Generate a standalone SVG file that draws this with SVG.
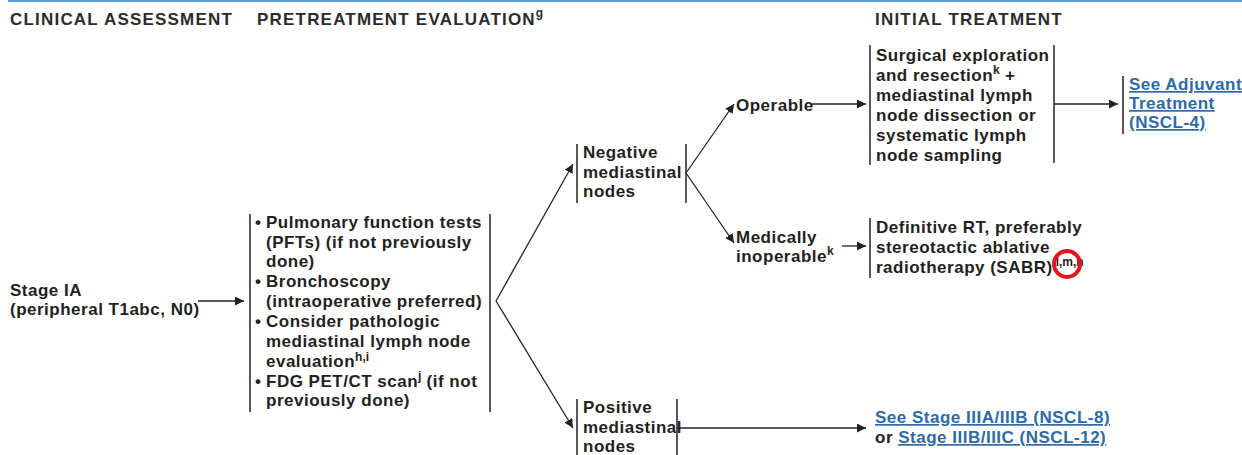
<svg xmlns="http://www.w3.org/2000/svg" width="1242" height="455" viewBox="0 0 1242 455">
  <style>
    text { font-family: "Liberation Sans", Arial, sans-serif; font-weight: bold; fill: #231f20; }
    .h { font-size: 17px; letter-spacing: 1.2px; fill: #2b2b2b; }
    .t { font-size: 17px; letter-spacing: 0.5px; }
    .s { font-size: 12px; letter-spacing: 0; }
    .lnk { fill: #2e6aa6; text-decoration: underline; }
    .bar { stroke: #222; stroke-width: 1.5; fill: none; }
    .conn path, .conn line { stroke: #222; stroke-width: 1.3; fill: none; }
  </style>
  <defs>
    <marker id="arr" viewBox="0 0 10 10" refX="10" refY="5" markerWidth="9" markerHeight="9" markerUnits="userSpaceOnUse" orient="auto">
      <path d="M0,0 L10,5 L0,10 z" fill="#222"/>
    </marker>
  </defs>

  <rect width="1242" height="455" fill="#fff"/>
  <line x1="8" y1="1" x2="1242" y2="1" stroke="#5b9bd0" stroke-width="2"/>

  <!-- column headings -->
  <g id="headings">
    <text class="h" x="10" y="25">CLINICAL ASSESSMENT</text>
    <text class="h" x="257" y="25">PRETREATMENT EVALUATION<tspan class="s" dy="-8">g</tspan></text>
    <text class="h" x="875" y="25">INITIAL TREATMENT</text>
  </g>

  <g id="stage-ia">
    <text class="t" x="10" y="296">Stage IA</text>
    <text class="t" x="10" y="315">(peripheral T1abc, N0)</text>
  </g>

  <g id="pretreatment">
    <line class="bar" x1="250" y1="214" x2="250" y2="412"/>
    <line class="bar" x1="490" y1="214" x2="490" y2="412"/>
    <text class="t" x="255" y="228">•</text>
    <text class="t" x="266" y="228">Pulmonary function tests</text>
    <text class="t" x="266" y="248">(PFTs) (if not previously</text>
    <text class="t" x="266" y="267">done)</text>
    <text class="t" x="255" y="287">•</text>
    <text class="t" x="266" y="287">Bronchoscopy</text>
    <text class="t" x="266" y="307">(intraoperative preferred)</text>
    <text class="t" x="255" y="327">•</text>
    <text class="t" x="266" y="327">Consider pathologic</text>
    <text class="t" x="266" y="347">mediastinal lymph node</text>
    <text class="t" x="266" y="367">evaluation<tspan class="s" dy="-6">h,i</tspan></text>
    <text class="t" x="255" y="387">•</text>
    <text class="t" x="266" y="387">FDG PET/CT scan<tspan class="s" dy="-7">j</tspan><tspan dy="7"> (if not</tspan></text>
    <text class="t" x="266" y="406">previously done)</text>
  </g>

  <g id="negative-nodes">
    <line class="bar" x1="577" y1="144" x2="577" y2="203"/>
    <line class="bar" x1="686" y1="144" x2="686" y2="203"/>
    <text class="t" x="583" y="158">Negative</text>
    <text class="t" x="583" y="178">mediastinal</text>
    <text class="t" x="583" y="197">nodes</text>
  </g>

  <g id="positive-nodes">
    <line class="bar" x1="577" y1="399" x2="577" y2="455"/>
    <line class="bar" x1="677" y1="399" x2="677" y2="455"/>
    <text class="t" x="583" y="413">Positive</text>
    <text class="t" x="583" y="433">mediastinal</text>
    <text class="t" x="583" y="452">nodes</text>
  </g>

  <g id="operable">
    <text class="t" x="736" y="111">Operable</text>
  </g>

  <g id="inoperable">
    <text class="t" x="736" y="243">Medically</text>
    <text class="t" x="736" y="262">inoperable<tspan class="s" dy="-7">k</tspan></text>
  </g>

  <g id="surgery">
    <line class="bar" x1="870" y1="45" x2="870" y2="165"/>
    <line class="bar" x1="1054" y1="45" x2="1054" y2="163"/>
    <text class="t" x="876" y="61">Surgical exploration</text>
    <text class="t" x="876" y="81">and resection<tspan class="s" dy="-7">k</tspan><tspan dy="7"> +</tspan></text>
    <text class="t" x="876" y="101">mediastinal lymph</text>
    <text class="t" x="876" y="121">node dissection or</text>
    <text class="t" x="876" y="141">systematic lymph</text>
    <text class="t" x="876" y="161">node sampling</text>
  </g>

  <g id="adjuvant">
    <line class="bar" x1="1123" y1="76" x2="1123" y2="134"/>
    <text class="t lnk" x="1129" y="90">See Adjuvant</text>
    <text class="t lnk" x="1129" y="109">Treatment </text>
    <text class="t lnk" x="1129" y="128">(NSCL-4)</text>
  </g>

  <g id="sabr">
    <line class="bar" x1="870" y1="218" x2="870" y2="278"/>
    <text class="t" x="876" y="233">Definitive RT, preferably</text>
    <text class="t" x="876" y="253">stereotactic ablative</text>
    <text class="t" x="876" y="273">radiotherapy (SABR)<tspan class="s" dx="3" dy="-7">l,m,n</tspan></text>
    <circle cx="1067" cy="264" r="13" fill="none" stroke="#e8141b" stroke-width="4"/>
  </g>

  <g id="stage-iii">
    <text class="t" x="875" y="423"><tspan class="lnk">See Stage IIIA/IIIB (NSCL-8)</tspan></text>
    <text class="t" x="875" y="443">or <tspan class="lnk">Stage IIIB/IIIC (NSCL-12)</tspan></text>
  </g>

  <g class="conn" id="connectors">
    <line x1="198" y1="301" x2="244" y2="301" marker-end="url(#arr)"/>
    <line x1="496" y1="301" x2="573" y2="164" marker-end="url(#arr)"/>
    <line x1="496" y1="301" x2="573" y2="428" marker-end="url(#arr)"/>
    <line x1="686" y1="173" x2="734" y2="104" marker-end="url(#arr)"/>
    <line x1="686" y1="173" x2="734" y2="243" marker-end="url(#arr)"/>
    <line x1="812" y1="104" x2="866" y2="104" marker-end="url(#arr)"/>
    <line x1="842" y1="246" x2="866" y2="246" marker-end="url(#arr)"/>
    <line x1="1054" y1="104" x2="1118" y2="104" marker-end="url(#arr)"/>
    <line x1="677" y1="428" x2="866" y2="428" marker-end="url(#arr)"/>
  </g>
</svg>
